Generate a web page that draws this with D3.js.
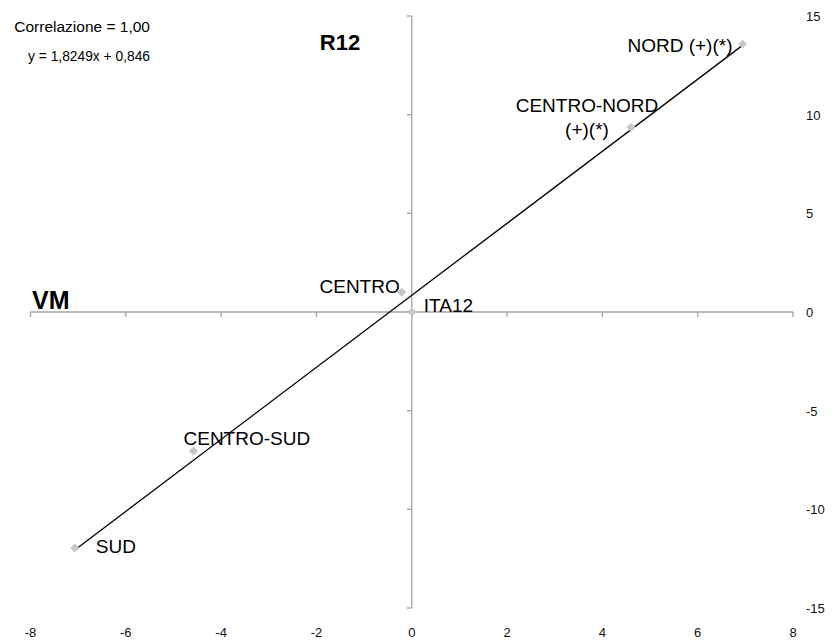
<!DOCTYPE html>
<html>
<head>
<meta charset="utf-8">
<script src="https://cdn.jsdelivr.net/npm/d3@7"></script>
<style>
  html, body { margin: 0; padding: 0; background: #fff; }
  svg { display: block; font-family: "Liberation Sans", Arial, sans-serif; }
</style>
</head>
<body>
<svg id="chart" width="836" height="642"></svg>
<script>
// ---- Data ----
const regions = ["NORD (+)(*)", "CENTRO-NORD\n(+)(*)", "CENTRO", "ITA12", "CENTRO-SUD", "SUD"];
const vmValues  = [6.94, 4.60, -0.21, 0.00, -4.58, -7.07];
const r12Values = [13.58, 9.36, 1.00, 0.00, -7.05, -11.96];
const xTicks = [-8, -6, -4, -2, 0, 2, 4, 6, 8];
const yTicks = [-15, -10, -5, 0, 5, 10, 15];
const slope = 1.8249;
const intercept = 0.846;
const correlationText = "Correlazione = 1,00";
const equationText = "y = 1,8249x + 0,846";
const xTitle = "VM";
const yTitle = "R12";

// ---- Layout (label offsets in px relative to the marker) ----
const labelLayout = {
  "NORD (+)(*)":        { dx: -10, dy: 8,  anchor: "end" },
  "CENTRO-NORD\n(+)(*)":{ dx: -44, dy: -15, anchor: "middle" },
  "CENTRO":             { dx: -2,  dy: 1,  anchor: "end" },
  "ITA12":              { dx: 12,  dy: 0,  anchor: "start" },
  "CENTRO-SUD":         { dx: -10, dy: -6, anchor: "start" },
  "SUD":                { dx: 21,  dy: 5,  anchor: "start" }
};

const svg = d3.select("#chart");
const x = d3.scaleLinear().domain([-8, 8]).range([30.5, 793]);
const y = d3.scaleLinear().domain([-15, 15]).range([608, 16]);
const axisColor = "#a3a3a3";

// X axis line (at y=0) with ticks pointing down
const xAxisG = svg.append("g").attr("transform", `translate(0,${y(0)})`);
xAxisG.append("line")
  .attr("x1", x(-8)).attr("x2", x(8)).attr("y1", 0).attr("y2", 0)
  .attr("stroke", axisColor).attr("stroke-width", 1.3);
xAxisG.selectAll("line.tick").data(xTicks).enter().append("line")
  .attr("class", "tick")
  .attr("x1", d => x(d)).attr("x2", d => x(d))
  .attr("y1", 0).attr("y2", 5)
  .attr("stroke", axisColor).attr("stroke-width", 1.3);

// Y axis line (at x=0) with ticks pointing left
const yAxisG = svg.append("g").attr("transform", `translate(${x(0)},0)`);
yAxisG.append("line")
  .attr("x1", 0).attr("x2", 0).attr("y1", y(15)).attr("y2", y(-15))
  .attr("stroke", axisColor).attr("stroke-width", 1.3);
yAxisG.selectAll("line.tick").data(yTicks).enter().append("line")
  .attr("class", "tick")
  .attr("x1", -5).attr("x2", 0)
  .attr("y1", d => y(d)).attr("y2", d => y(d))
  .attr("stroke", axisColor).attr("stroke-width", 1.3);

// Tick labels: x at the bottom, y on the right
svg.append("g").selectAll("text").data(xTicks).enter().append("text")
  .attr("x", d => x(d)).attr("y", 637)
  .attr("text-anchor", "middle")
  .attr("font-size", 13).attr("fill", "#111")
  .text(d => d);
svg.append("g").selectAll("text").data(yTicks).enter().append("text")
  .attr("x", 806).attr("y", d => y(d) + 5)
  .attr("text-anchor", "start")
  .attr("font-size", 13).attr("fill", "#111")
  .text(d => d);

// Trendline across the data range
const xMin = d3.min(vmValues), xMax = d3.max(vmValues);
svg.append("line")
  .attr("x1", x(xMin)).attr("y1", y(slope * xMin + intercept))
  .attr("x2", x(xMax)).attr("y2", y(slope * xMax + intercept))
  .attr("stroke", "#000").attr("stroke-width", 1.3);

// Markers
const points = regions.map((r, i) => ({ name: r, vx: vmValues[i], vy: r12Values[i] }));
const diamond = d3.symbol().type(d3.symbolSquare).size(42);
svg.append("g").selectAll("path").data(points).enter().append("path")
  .attr("d", diamond)
  .attr("transform", d => `translate(${x(d.vx)},${y(d.vy)}) rotate(45)`)
  .attr("fill", "#c6c6c6");

// Point labels
const lbl = svg.append("g").selectAll("text").data(points).enter().append("text")
  .attr("x", d => x(d.vx) + labelLayout[d.name].dx)
  .attr("y", d => y(d.vy) + labelLayout[d.name].dy)
  .attr("text-anchor", d => labelLayout[d.name].anchor)
  .attr("font-size", 19).attr("fill", "#000");
lbl.each(function(d) {
  const lines = d.name.split("\n");
  const t = d3.select(this);
  lines.forEach((ln, i) => {
    t.append("tspan")
      .attr("x", x(d.vx) + labelLayout[d.name].dx)
      .attr("dy", i === 0 ? 0 : 24)
      .text(ln);
  });
});

// Axis titles
svg.append("text").attr("x", 32).attr("y", 309)
  .attr("font-size", 25).attr("font-weight", "bold").text(xTitle);
svg.append("text").attr("x", 340).attr("y", 50)
  .attr("text-anchor", "middle")
  .attr("font-size", 22).attr("font-weight", "bold").text(yTitle);

// Correlation box text
svg.append("text").attr("x", 150).attr("y", 32)
  .attr("text-anchor", "end").attr("font-size", 15.5).text(correlationText);
svg.append("text").attr("x", 150).attr("y", 61)
  .attr("text-anchor", "end").attr("font-size", 13.8).text(equationText);
</script>
</body>
</html>
